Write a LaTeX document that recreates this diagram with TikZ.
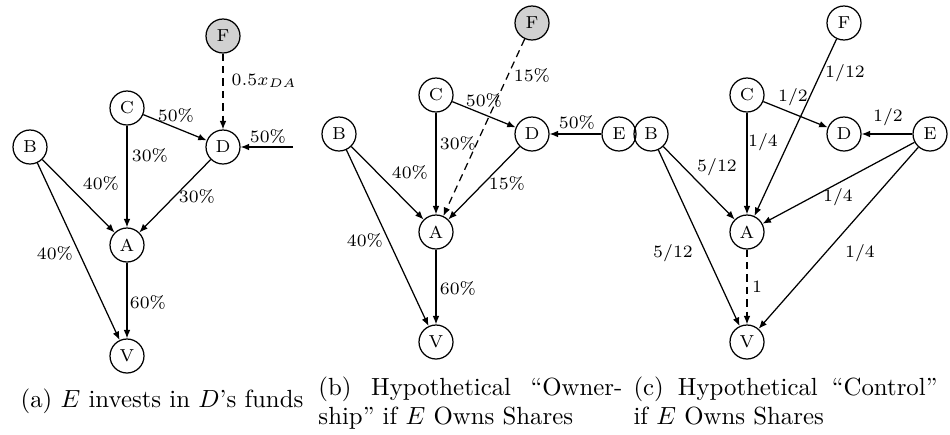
\documentclass[tikz,border=0pt]{standalone}
\usetikzlibrary{arrows.meta}
\begin{document}
\tikzset{
  vtx/.style={circle, draw, line width=0.5pt, minimum size=13.7pt, inner sep=0pt,
              font=\fontsize{7}{8}\selectfont},
  shaded/.style={vtx, fill=black!18},
  lbl/.style={font=\fontsize{7}{8}\selectfont, inner sep=0pt},
  arr/.style={-{Latex[length=3.4pt,width=2.7pt]}, line width=0.5pt},
  darr/.style={arr, dash pattern=on 3pt off 2pt},
  subcap/.style={font=\fontsize{10}{12}\selectfont, inner sep=0pt}
}
\begin{tikzpicture}[x=0.403pt, y=-0.403pt]
\useasboundingbox (0,0) rectangle (950,434);

% ---------- (a) E invests in D's funds ----------
\node[shaded] (aF) at (223,36) {F};
\node[vtx] (aC) at (127,108) {C};
\node[vtx] (aD) at (223,147) {D};
\node[vtx] (aB) at (30,147) {B};
\node[vtx] (aA) at (127,245) {A};
\node[vtx] (aV) at (127,356) {V};
\coordinate (aE) at (293,147);
\draw[darr] (aF) -- (aD) node[lbl, anchor=west] at (231,81) {$0.5x_{DA}$};
\draw[arr] (aC) -- (aD) node[lbl] at (176,115) {50\%};
\draw[arr] (aC) -- (aA) node[lbl] at (150,155) {30\%};
\draw[arr] (aB) -- (aA) node[lbl] at (101,183) {40\%};
\draw[arr] (aD) -- (aA) node[lbl] at (197,196) {30\%};
\draw[arr] (aB) -- (aV) node[lbl] at (55,253) {40\%};
\draw[arr] (aA) -- (aV) node[lbl] at (148,302) {60\%};
\draw[arr] (aE) -- (aD) node[lbl] at (268,136) {50\%};
\node[subcap, anchor=base] (capa) at (162,407) {(a) $E$ invests in $D$'s funds};

% ---------- (b) hypothetical ownership ----------
\node[shaded] (bF) at (532,23) {F};
\node[vtx] (bC) at (436,95) {C};
\node[vtx] (bD) at (532,134) {D};
\node[vtx] (bB) at (339,134) {B};
\node[vtx] (bE) at (619,134) {E};
\node[vtx] (bA) at (436,232) {A};
\node[vtx] (bV) at (436,342) {V};
\draw[darr] (bF) -- (bA) node[lbl] at (532,75) {15\%};
\draw[arr] (bC) -- (bD) node[lbl] at (484,100) {50\%};
\draw[arr] (bC) -- (bA) node[lbl] at (458,143) {30\%};
\draw[arr] (bB) -- (bA) node[lbl] at (410,172) {40\%};
\draw[arr] (bD) -- (bA) node[lbl] at (507,183) {15\%};
\draw[arr] (bE) -- (bD) node[lbl] at (577,122) {50\%};
\draw[arr] (bB) -- (bV) node[lbl] at (365,240) {40\%};
\draw[arr] (bA) -- (bV) node[lbl] at (458,288) {60\%};
\node[subcap, anchor=base west, text width=122.5pt, align=left] (capb) at (318,395)
  {\hbox to 122.5pt{(b)\hfill Hypothetical\hfill ``Owner-}\\ship'' if $E$ Owns Shares};

% ---------- (c) hypothetical control ----------
\node[vtx] (cF) at (844,23) {F};
\node[vtx] (cC) at (747,95) {C};
\node[vtx] (cD) at (844,134) {D};
\node[vtx] (cB) at (651,134) {B};
\node[vtx] (cE) at (930,134) {E};
\node[vtx] (cA) at (747,232) {A};
\node[vtx] (cV) at (747,342) {V};
\draw[arr] (cF) -- (cA) node[lbl] at (845,73) {1/12};
\draw[arr] (cC) -- (cD) node[lbl] at (793,97) {1/2};
\draw[arr] (cC) -- (cA) node[lbl] at (763,142) {1/4};
\draw[arr] (cB) -- (cA) node[lbl] at (717,167) {5/12};
\draw[arr] (cE) -- (cD) node[lbl] at (888,117) {1/2};
\draw[arr] (cE) -- (cA) node[lbl] at (838,197) {1/4};
\draw[arr] (cB) -- (cV) node[lbl] at (673,253) {5/12};
\draw[arr] (cE) -- (cV) node[lbl] at (860,253) {1/4};
\draw[darr] (cA) -- (cV) node[lbl] at (757,287) {1};
\node[subcap, anchor=base west, text width=122.5pt, align=left] (capc) at (633,395)
  {\hbox to 122.5pt{(c)\hfill Hypothetical\hfill ``Control''}\\if $E$ Owns Shares};
\end{tikzpicture}
\end{document}
